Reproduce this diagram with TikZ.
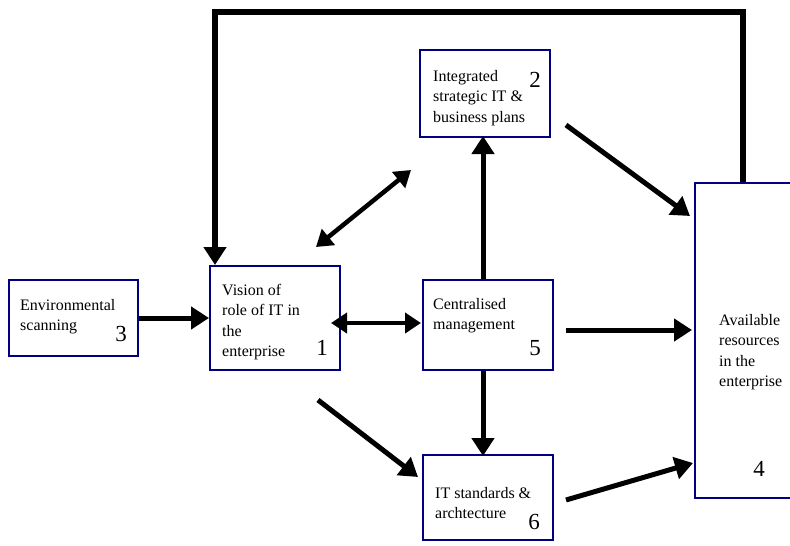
\documentclass[tikz,border=0pt]{standalone}
\usepackage{fontspec}
\setmainfont{Liberation Serif}
\usetikzlibrary{arrows.meta}
\definecolor{boxblue}{RGB}{0,0,128}

\begin{document}
\begin{tikzpicture}[x=1pt, y=-1pt,
		box/.style={rectangle, draw=boxblue, line width=2pt, fill=white, inner sep=0pt},
		boxtext/.style={anchor=north west, align=left, inner sep=0pt, font=\fontsize{16}{20.5}\selectfont},
		boxnum/.style={inner sep=0pt, font=\fontsize{23}{23}\selectfont},
		link/.style={line width=5pt, -{Triangle[length=18pt,width=22pt]}},
		twoway/.style={line width=4.5pt, {Triangle[length=16pt,width=20pt]}-{Triangle[length=16pt,width=20pt]}}
		]
		
		% Page frame
		\useasboundingbox (0,0) rectangle (790,546);
		
		% Boxes
		\node[box, minimum width=129pt, minimum height=76pt] (env) at (73.5,318) {};
		\node[boxtext] (env-text) at (20,299) {Environmental\\scanning};
		\node[boxnum] (env-num) at (121,334) {3};
		
		\node[box, minimum width=130pt, minimum height=104pt] (vision) at (275,318) {};
		\node[boxtext] (vision-text) at (222,284) {Vision of\\role of IT in\\the\\enterprise};
		\node[boxnum] (vision-num) at (322,348) {1};
		
		\node[box, minimum width=130pt, minimum height=87pt] (plans) at (485,93.5) {};
		\node[boxtext] (plans-text) at (433,70) {Integrated\\strategic IT \&\\business plans};
		\node[boxnum] (plans-num) at (535,80) {2};
		
		\node[box, minimum width=130pt, minimum height=90pt] (mgmt) at (488,325) {};
		\node[boxtext] (mgmt-text) at (433,298) {Centralised\\management};
		\node[boxnum] (mgmt-num) at (535,348) {5};
		
		\node[box, minimum width=130pt, minimum height=85pt] (stds) at (488,497.5) {};
		\node[boxtext] (stds-text) at (435,487) {IT standards \&\\archtecture};
		\node[boxnum] (stds-num) at (534,522) {6};
		
		\node[box, minimum width=98pt, minimum height=315pt] (avail) at (744,340.5) {};
		\node[boxtext] (avail-text) at (719,314) {Available\\resources\\in the\\enterprise};
		\node[boxnum] (avail-num) at (759,469) {4};
		
		% Free ends of the connectors
		\coordinate (loop-r) at (743,12);
		\coordinate (loop-l) at (215,12);
		\coordinate (mid) at (483,0);
		\coordinate (vm-a) at (331,323);
		\coordinate (vm-b) at (421,323);
		\coordinate (vp-a) at (316,247);
		\coordinate (vp-b) at (411,170);
		\coordinate (vs-a) at (318,400);
		\coordinate (vs-b) at (418,477);
		\coordinate (pa-a) at (566,125);
		\coordinate (pa-b) at (690,216);
		\coordinate (ma-a) at (566,330);
		\coordinate (ma-b) at (692,330);
		\coordinate (sa-a) at (566,500);
		\coordinate (sa-b) at (693,463);
		
		% Connectors
		\draw[link, line width=6pt] (avail.north -| loop-r) -- (loop-r) -- (loop-l) -- (loop-l |- vision.north);
		\draw[link] (env.east) -- (vision.west |- env.east);
		\draw[twoway] (vm-a) -- (vm-b);
		\draw[twoway] (vp-a) -- (vp-b);
		\draw[link] (mid |- mgmt.north) -- ([yshift=2pt]mid |- plans.south);
		\draw[link] (mid |- mgmt.south) -- ([yshift=-2pt]mid |- stds.north);
		\draw[link] (vs-a) -- (vs-b);
		\draw[link] (pa-a) -- (pa-b);
		\draw[link] (ma-a) -- (ma-b);
		\draw[link] (sa-a) -- (sa-b);
	\end{tikzpicture}
\end{document}
